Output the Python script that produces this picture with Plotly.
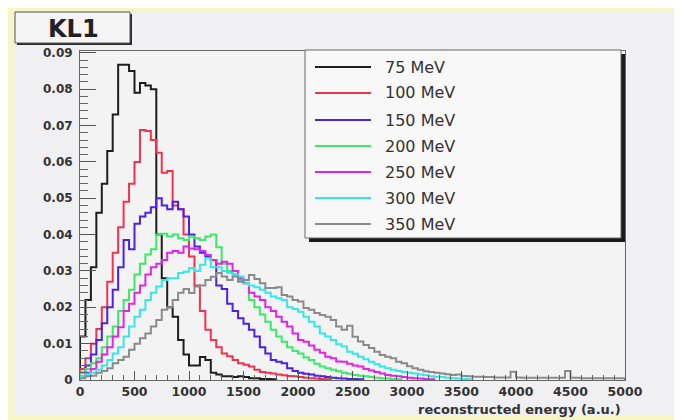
import plotly.graph_objects as go

# ---------------- data (bin width 50, bins start at 0) ----------------
BIN_WIDTH = 50
SERIES_NAMES = ["75 MeV", "100 MeV", "150 MeV", "200 MeV", "250 MeV", "300 MeV", "350 MeV"]
SERIES_COLORS = ["#1e1e1e", "#f0334f", "#4b22e6", "#3ce868", "#e025e6", "#35e6ea", "#8a8a8a"]

mev75 = [0.012, 0.022, 0.031, 0.046, 0.054, 0.063, 0.073, 0.0867, 0.0867, 0.085,
         0.079, 0.0817, 0.081, 0.080, 0.040, 0.028, 0.020, 0.0174, 0.011, 0.007,
         0.004, 0.004, 0.0063, 0.0055, 0.002, 0.0015, 0.001, 0.001, 0.0008, 0.001,
         0.0008, 0.0005, 0.0005, 0.0003, 0.0003, 0.0002]
mev100 = [0.003, 0.006, 0.010, 0.014, 0.020, 0.027, 0.035, 0.042, 0.049, 0.054,
          0.060, 0.0688, 0.0685, 0.066, 0.0625, 0.057, 0.0575, 0.048, 0.047, 0.040,
          0.034, 0.026, 0.019, 0.0138, 0.011, 0.009, 0.0073, 0.0065, 0.0055, 0.0046,
          0.0042, 0.0037, 0.0028, 0.0022, 0.002, 0.0018, 0.0015, 0.0013, 0.0011, 0.001,
          0.0008, 0.0006, 0.0005, 0.0004, 0.0003, 0.0002]
mev150 = [0.002, 0.004, 0.007, 0.011, 0.0156, 0.020, 0.0248, 0.031, 0.0385, 0.036,
          0.043, 0.045, 0.046, 0.0475, 0.050, 0.048, 0.047, 0.049, 0.047, 0.045,
          0.040, 0.0367, 0.035, 0.034, 0.033, 0.026, 0.025, 0.021, 0.019, 0.017,
          0.0155, 0.0138, 0.012, 0.009, 0.0073, 0.0055, 0.005, 0.0046, 0.0032, 0.0025,
          0.002, 0.0017, 0.0015, 0.0012, 0.001, 0.0008, 0.0006, 0.0005, 0.0004, 0.0003,
          0.0003, 0.0002]
mev200 = [0.002, 0.003, 0.0046, 0.006, 0.009, 0.012, 0.0147, 0.019, 0.022, 0.0248,
          0.029, 0.032, 0.0345, 0.036, 0.040, 0.0402, 0.0395, 0.040, 0.039, 0.0385,
          0.0395, 0.039, 0.0385, 0.0395, 0.040, 0.0365, 0.032, 0.030, 0.029, 0.0275,
          0.0266, 0.022, 0.020, 0.018, 0.016, 0.0138, 0.012, 0.0105, 0.009, 0.008,
          0.0073, 0.0062, 0.0055, 0.0045, 0.0037, 0.0032, 0.0028, 0.0024, 0.002, 0.0017,
          0.0014, 0.0012, 0.001, 0.0008, 0.0006, 0.0005, 0.0004, 0.0003, 0.0002]
mev250 = [0.001, 0.002, 0.003, 0.005, 0.007, 0.009, 0.012, 0.0145, 0.019, 0.021,
          0.024, 0.026, 0.029, 0.031, 0.032, 0.033, 0.035, 0.0355, 0.035, 0.0367,
          0.0362, 0.036, 0.0355, 0.0344, 0.033, 0.032, 0.0325, 0.032, 0.030, 0.028,
          0.0266, 0.024, 0.023, 0.022, 0.020, 0.019, 0.0174, 0.016, 0.0147, 0.0128,
          0.011, 0.0105, 0.0095, 0.0083, 0.0075, 0.0064, 0.006, 0.0051, 0.005, 0.0045,
          0.004, 0.0037, 0.003, 0.0026, 0.0022, 0.0018, 0.0014, 0.0012, 0.001, 0.0008,
          0.0006, 0.0005, 0.0004, 0.0003, 0.0002]
mev300 = [0.001, 0.0015, 0.002, 0.0028, 0.004, 0.0055, 0.0073, 0.009, 0.012, 0.0147,
          0.0174, 0.0193, 0.022, 0.024, 0.0257, 0.0275, 0.028, 0.028, 0.0294, 0.0298,
          0.0308, 0.030, 0.0317, 0.0335, 0.031, 0.031, 0.030, 0.0295, 0.029, 0.0285,
          0.0266, 0.026, 0.0255, 0.0248, 0.024, 0.023, 0.0225, 0.022, 0.020, 0.0195,
          0.0188, 0.0174, 0.016, 0.0147, 0.0128, 0.012, 0.011, 0.0098, 0.0092, 0.0078,
          0.0072, 0.0064, 0.0057, 0.005, 0.0043, 0.0037, 0.0032, 0.0028, 0.0025, 0.0022,
          0.002, 0.0018, 0.0015, 0.0013, 0.001, 0.0009, 0.0008, 0.0006, 0.0005, 0.0004,
          0.0003, 0.0002]
mev350 = [0.0005, 0.001, 0.0012, 0.002, 0.0025, 0.0032, 0.0046, 0.0055, 0.0064, 0.0083,
          0.010, 0.0115, 0.0128, 0.0147, 0.0165, 0.0193, 0.020, 0.022, 0.024, 0.025,
          0.0239, 0.0257, 0.026, 0.0275, 0.0284, 0.0294, 0.0285, 0.0275, 0.0285, 0.027,
          0.0275, 0.0289, 0.0278, 0.0266, 0.0253, 0.0253, 0.0255, 0.0234, 0.023, 0.022,
          0.0216, 0.0198, 0.0193, 0.0184, 0.0179, 0.0174, 0.0165, 0.0147, 0.0138, 0.0149,
          0.0119, 0.0106, 0.0096, 0.0088, 0.0078, 0.0069, 0.0064, 0.006, 0.005, 0.0046,
          0.0038, 0.0032, 0.0028, 0.0024, 0.0022, 0.002, 0.0018, 0.0016, 0.0014, 0.0015,
          0.0011, 0.001, 0.0009, 0.0009, 0.0008, 0.0008, 0.0007, 0.0007, 0.0007, 0.0023,
          0.0007, 0.0006, 0.0006, 0.0006, 0.0006, 0.0006, 0.0006, 0.0006, 0.0006, 0.0025,
          0.0006, 0.0006, 0.0005, 0.0005, 0.0005, 0.0005, 0.0005, 0.0005, 0.0005, 0.0005]
SERIES_VALUES = [mev75, mev100, mev150, mev200, mev250, mev300, mev350]

X_TICKS = [0, 500, 1000, 1500, 2000, 2500, 3000, 3500, 4000, 4500, 5000]
Y_TICKS = [0, 0.01, 0.02, 0.03, 0.04, 0.05, 0.06, 0.07, 0.08, 0.09]
TITLE = "KL1"
X_TITLE = "reconstructed energy (a.u.)"

# ---------------- layout geometry ----------------
# the page body has an 8px margin, so the figure starts at (8, 8) in the window
OFF = 8
W, H = 682 - OFF, 420 - OFF
L, R, T, B = 80 - OFF, 57, 51 - OFF, 40
PW, PH = W - L - R, H - T - B


def px(x):
    """window pixel x -> paper fraction"""
    return (x - OFF - L) / PW


def py(y):
    """window pixel y -> paper fraction"""
    return (H - B - (y - OFF)) / PH


FONT = "DejaVu Sans"

fig = go.Figure()
for name, color, vals in zip(SERIES_NAMES, SERIES_COLORS, SERIES_VALUES):
    edges = [i * BIN_WIDTH for i in range(len(vals) + 1)]
    xs = [0] + edges[:-1] + [edges[-1]]
    ys = [0] + list(vals) + [0]
    fig.add_trace(go.Scatter(x=xs, y=ys, mode="lines", name=name,
                             line=dict(color=color, width=2, shape="hv"),
                             showlegend=False, hoverinfo="skip"))

shapes = []
# outer page: yellow frame and grey background
shapes.append(dict(type="rect", xref="paper", yref="paper", x0=px(8), x1=px(700), y0=py(5), y1=py(430),
                   fillcolor="#f6f6c4", line=dict(width=0), layer="below"))
shapes.append(dict(type="rect", xref="paper", yref="paper", x0=px(13), x1=px(700), y0=py(11), y1=py(415),
                   fillcolor="#f0f0f2", line=dict(width=0), layer="below"))
shapes.append(dict(type="rect", xref="paper", yref="paper", x0=0, x1=1, y0=0, y1=1,
                   fillcolor="#f3f3f3", line=dict(width=0), layer="below"))

# title box with shadow
shapes.append(dict(type="rect", xref="paper", yref="paper", x0=px(17), x1=px(132), y0=py(45), y1=py(14),
                   fillcolor="#2a2a2a", line=dict(width=0), layer="above"))
shapes.append(dict(type="rect", xref="paper", yref="paper", x0=px(15), x1=px(130), y0=py(43), y1=py(12),
                   fillcolor="#f5f5f5", line=dict(color="#555", width=1), layer="above"))

# legend box with shadow
shapes.append(dict(type="rect", xref="paper", yref="paper", x0=px(309), x1=px(625), y0=py(242), y1=py(54),
                   fillcolor="#1a1a1a", line=dict(width=0), layer="above"))
shapes.append(dict(type="rect", xref="paper", yref="paper", x0=px(305), x1=px(621), y0=py(238), y1=py(50),
                   fillcolor="#f8f8f8", line=dict(color="#666", width=1), layer="above"))

annotations = []
LEG_Y = [67, 93, 120, 146, 172, 198, 224]
for name, color, ly in zip(SERIES_NAMES, SERIES_COLORS, LEG_Y):
    shapes.append(dict(type="line", xref="paper", yref="paper", x0=px(315), x1=px(371), y0=py(ly), y1=py(ly),
                       line=dict(color=color, width=2), layer="above"))
    annotations.append(dict(text=name, xref="paper", yref="paper", x=px(383), y=py(ly),
                            xanchor="left", yanchor="middle", showarrow=False,
                            font=dict(family=FONT, size=16, color="#333")))

annotations.append(dict(text=TITLE, xref="paper", yref="paper", x=px(73), y=py(29),
                        xanchor="center", yanchor="middle", showarrow=False,
                        font=dict(family=FONT, size=24, color="#222", weight="bold")))
annotations.append(dict(text=X_TITLE, xref="paper", yref="paper", x=px(623), y=py(409),
                        xanchor="right", yanchor="middle", showarrow=False,
                        font=dict(family=FONT, size=13, color="#333", weight="bold")))

fig.update_layout(
    width=W, height=H,
    margin=dict(l=L, r=R, t=T, b=B, pad=0),
    paper_bgcolor="#ffffff", plot_bgcolor="rgba(0,0,0,0)",
    shapes=shapes, annotations=annotations, showlegend=False,
    xaxis=dict(range=[0, 5000], tickvals=X_TICKS, ticks="inside", ticklen=9, tickcolor="#555",
               showline=True, linecolor="#666", linewidth=1, mirror=True, showgrid=False, zeroline=False,
               minor=dict(ticks="inside", ticklen=5, dtick=100, tickcolor="#666"),
               ticklabelstandoff=0,
               tickfont=dict(family=FONT, size=12.5, color="#333", weight="bold")),
    yaxis=dict(range=[0, 0.0905], tickvals=Y_TICKS, ticks="inside", ticklen=16, tickcolor="#555",
               showline=True, linecolor="#666", linewidth=1, mirror=True, showgrid=False, zeroline=False,
               minor=dict(ticks="inside", ticklen=8, dtick=0.002, tickcolor="#666"),
               ticklabelstandoff=4,
               tickfont=dict(family=FONT, size=12, color="#333", weight="bold")),
)

fig.write_html("out.html")
